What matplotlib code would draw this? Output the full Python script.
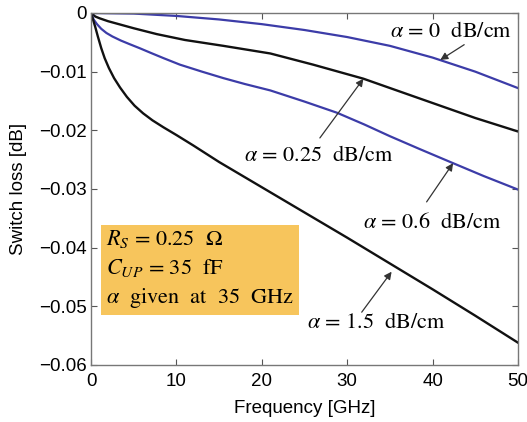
import matplotlib
matplotlib.use("Agg")
import matplotlib.pyplot as plt

plt.rcParams["font.family"] = ["Liberation Sans", "DejaVu Sans"]
plt.rcParams["mathtext.fontset"] = "stix"

# Switch loss vs frequency for several line attenuations
freq_a0 = [0, 5, 10, 15, 20, 25, 30, 35, 40, 45, 50]
loss_a0 = [0, -0.0001, -0.0005, -0.0011, -0.0019, -0.0029, -0.0041, -0.0056,
           -0.0076, -0.0100, -0.0128]

freq_a025 = [0, 0.5, 1, 2, 3, 5, 7.7, 11, 15.5, 21, 26, 31.9, 36, 40.5, 45, 50]
loss_a025 = [0, -0.0006, -0.0009, -0.0014, -0.0018, -0.0026, -0.0036, -0.0046,
             -0.0056, -0.0069, -0.0088, -0.0112, -0.0133, -0.0156, -0.0179, -0.0202]

freq_a06 = [0, 0.3, 0.7, 1.2, 1.8, 2.5, 3.5, 4.5, 5.7, 7, 8.5, 10.4, 13, 15.5,
            18, 21, 25, 28.8, 32, 35, 38.5, 42.4, 46, 50]
loss_a06 = [0, -0.0011, -0.0019, -0.0027, -0.0034, -0.0040, -0.0047, -0.0053,
            -0.0060, -0.0068, -0.0077, -0.0088, -0.0100, -0.0111, -0.0121,
            -0.0132, -0.0151, -0.0170, -0.0190, -0.0210, -0.0232, -0.0256,
            -0.0278, -0.0301]

freq_a15 = [0, 0.25, 0.5, 0.8, 1.2, 1.6, 2.1, 2.7, 3.4, 4.2, 5.1, 6.1, 7.2, 8.5,
            10, 12, 15, 20, 25, 30, 35, 40, 45, 50]
loss_a15 = [0, -0.0012, -0.0024, -0.0040, -0.0060, -0.0077, -0.0094, -0.0111,
            -0.0127, -0.0143, -0.0158, -0.0171, -0.0183, -0.0195, -0.0208,
            -0.0226, -0.0254, -0.0297, -0.0340, -0.0383, -0.0427, -0.0471,
            -0.0516, -0.0562]

x_ticks = [0, 10, 20, 30, 40, 50]
y_ticks = [0, -0.01, -0.02, -0.03, -0.04, -0.05, -0.06]
y_tick_labels = ["0", "\u22120.01", "\u22120.02", "\u22120.03", "\u22120.04",
                 "\u22120.05", "\u22120.06"]

blue = "#3c3ca8"
black = "#111111"

fig = plt.figure(figsize=(5.27, 4.22), dpi=100)
ax = fig.add_axes([0.1727, 0.1351, 0.9829 - 0.1727, 0.9692 - 0.1351])

ax.plot(freq_a0, loss_a0, color=blue, lw=1.6)
ax.plot(freq_a025, loss_a025, color=black, lw=1.7)
ax.plot(freq_a06, loss_a06, color=blue, lw=1.6)
ax.plot(freq_a15, loss_a15, color=black, lw=1.7)

ax.set_xlim(0, 50)
ax.set_ylim(-0.06, 0)
ax.set_xticks(x_ticks)
ax.set_yticks(y_ticks)
ax.set_yticklabels(y_tick_labels)
ax.tick_params(direction="in", length=4, width=0.8, color="#555555",
               labelsize=13.5, top=True, right=True)
ax.tick_params(axis="x", pad=6)
ax.tick_params(axis="y", pad=3)
for sp in ax.spines.values():
    sp.set_color("#777777")
    sp.set_linewidth(1.0)

ax.set_xlabel("Frequency [GHz]", fontsize=13.5, labelpad=7)
ax.set_ylabel("Switch loss [dB]", fontsize=13.5, labelpad=9)

arrow = dict(arrowstyle="-|>", color="#333333", lw=0.9, mutation_scale=11,
             shrinkA=0, shrinkB=0)
lab_fs = 16
lab_kw = dict(ha="center", va="center", fontsize=lab_fs, family="STIXGeneral")

ax.annotate(r"$\alpha$ = 0  dB/cm", xy=(40.9, -0.0080), xytext=(42.15, -0.0033),
            **lab_kw)
ax.annotate("", xy=(40.9, -0.0080), xytext=(43.7, -0.0054), arrowprops=arrow)
ax.annotate(r"$\alpha$ = 0.25  dB/cm", xy=(31.9, -0.0112), xytext=(26.75, -0.0244),
            **lab_kw)
ax.annotate("", xy=(31.9, -0.0112), xytext=(26.8, -0.0213), arrowprops=arrow)
ax.annotate(r"$\alpha$ = 0.6  dB/cm", xy=(42.4, -0.0256), xytext=(40.0, -0.0358),
            **lab_kw)
ax.annotate("", xy=(42.4, -0.0256), xytext=(39.3, -0.0322), arrowprops=arrow)
ax.annotate(r"$\alpha$ = 1.5  dB/cm", xy=(35.2, -0.0441), xytext=(33.4, -0.0528),
            **lab_kw)
ax.annotate("", xy=(35.2, -0.0441), xytext=(31.7, -0.0510), arrowprops=arrow)

# Parameter box
box_text = "\n".join([r"$R_S$ = 0.25  $\Omega$",
                      r"$C_{UP}$ = 35  fF",
                      r"$\alpha$  given  at  35  GHz"])
ax.text(1.8, -0.0367, box_text, ha="left", va="top", fontsize=16,
        family="STIXGeneral", linespacing=1.4,
        bbox=dict(boxstyle="square,pad=0.22", facecolor="#f7c55c",
                  edgecolor="none"))

fig.savefig("out.png", dpi=100, facecolor="white")
